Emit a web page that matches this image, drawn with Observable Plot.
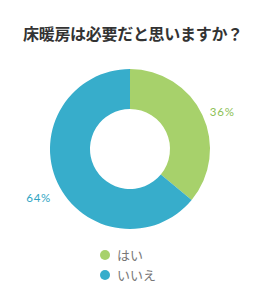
<!DOCTYPE html>
<html>
<head>
<meta charset="utf-8">
<script src="https://cdn.jsdelivr.net/npm/d3@7"></script>
<script src="https://cdn.jsdelivr.net/npm/@observablehq/plot@0.6"></script>
<style>
  html, body { margin: 0; padding: 0; background: #fff; }
  #wrap { position: relative; width: 260px; height: 290px; overflow: hidden; }
  #title { position: absolute; left: 23px; top: 22px; font: bold 16px/22px "Noto Sans CJK JP", sans-serif; color: #333; white-space: nowrap; letter-spacing: -0.3px; }
  #chart { position: absolute; left: 0; top: 50px; }
  #legend { position: absolute; left: 100px; top: 245px; font: 13px/20px "Noto Sans CJK JP", sans-serif; color: #777; }
  .item { display: flex; align-items: center; height: 20px; }
  .sw { width: 10px; height: 10px; border-radius: 50%; margin-right: 7px; }
</style>
</head>
<body>
<div id="wrap">
  <div id="title"></div>
  <div id="chart"></div>
  <div id="legend"></div>
</div>
<script>
const titleText = "床暖房は必要だと思いますか？";
const categories = ["はい", "いいえ"];
const values = [36, 64];
const labels = ["36%", "64%"];
const colors = ["#a7d16b", "#37adcb"];
const labelColors = ["#8dbf55", "#2ea4c3"];

document.getElementById("title").textContent = titleText;

const outerR = 80, innerR = 40, labelR = 101.5;
const data = categories.map((c, i) => ({category: c, value: values[i], label: labels[i]}));
const arcs = d3.pie().sort(null).value(d => d.value)(data);
const labelData = arcs.map((a, i) => {
  const mid = (a.startAngle + a.endAngle) / 2;
  return {x: labelR * Math.sin(mid), y: labelR * Math.cos(mid), label: a.data.label, i};
});

function donut(index, scales) {
  const cx = scales.x(0), cy = scales.y(0);
  const k = Math.abs(scales.x(1) - scales.x(0));
  const arc = d3.arc().innerRadius(innerR * k).outerRadius(outerR * k);
  const g = d3.create("svg:g").attr("transform", `translate(${cx},${cy})`);
  g.selectAll("path").data(arcs).join("path")
    .attr("d", arc)
    .attr("fill", (d, i) => colors[i]);
  return g.node();
}

const plot = Plot.plot({
  width: 260,
  height: 190,
  margin: 0,
  x: {domain: [-130, 130], axis: null},
  y: {domain: [-91, 99], axis: null},
  style: {background: "transparent", overflow: "visible"},
  marks: [
    donut,
    Plot.text(labelData, {
      x: "x", y: "y", text: "label",
      fill: d => labelColors[d.i],
      fontSize: 11.5, dy: 6,
      fontFamily: "Lato, sans-serif",
      textAnchor: "middle"
    })
  ]
});
plot.querySelectorAll("text").forEach(t => t.style.letterSpacing = "0.8px");
document.getElementById("chart").appendChild(plot);

const legend = document.getElementById("legend");
categories.forEach((c, i) => {
  const it = document.createElement("div");
  it.className = "item";
  const sw = document.createElement("span");
  sw.className = "sw";
  sw.style.background = colors[i];
  const t = document.createElement("span");
  t.textContent = c;
  it.appendChild(sw); it.appendChild(t);
  legend.appendChild(it);
});
</script>
</body>
</html>
